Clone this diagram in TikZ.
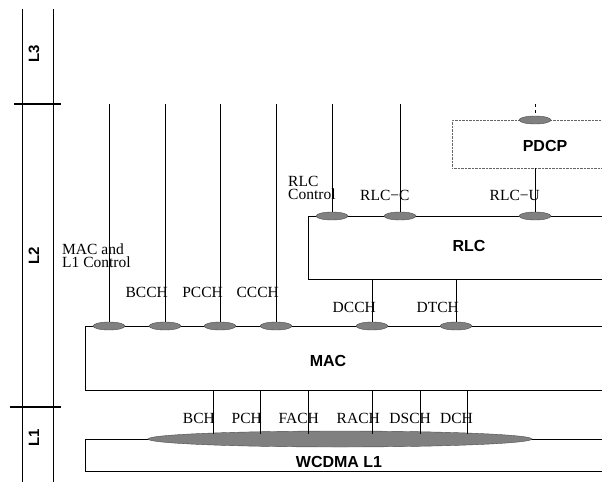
\documentclass[tikz,border=0pt]{standalone}
\usepackage{fontspec}
\setmainfont{Liberation Serif}
\setsansfont{Liberation Sans}
\usetikzlibrary{shapes.geometric,positioning}

\tikzset{
  layerbox/.style={draw, anchor=north west, inner sep=0pt},
  port/.style={ellipse, draw=black!70, fill=black!50, minimum width=32pt,
    minimum height=8pt, inner sep=0pt},
  chan/.style={font=\fontsize{15.5}{13.5}\selectfont, inner sep=0pt, align=left},
  blocklabel/.style={font=\fontsize{16}{16}\selectfont\sffamily\bfseries},
  layerlabel/.style={font=\fontsize{15}{15}\selectfont\sffamily\bfseries, rotate=90},
}

\begin{document}
\begin{tikzpicture}[x=1pt, y=-1pt]
  \clip (0,0) rectangle (602,482);

  % Layer scale
  \coordinate (scaleAtop) at (22,9);
  \coordinate (scaleAbot) at (22,482);
  \coordinate (scaleBtop) at (53,9);
  \coordinate (scaleBbot) at (53,482);
  \draw (scaleAtop) -- (scaleAbot);
  \draw (scaleBtop) -- (scaleBbot);
  \coordinate (tick23l) at (14,104);
  \coordinate (tick23r) at (61,104);
  \coordinate (tick12l) at (10,407);
  \coordinate (tick12r) at (61,407);
  \draw[line width=1.6pt] (tick23l) -- (tick23r);
  \draw[line width=1.6pt] (tick12l) -- (tick12r);
  \node[layerlabel] (lthree) at (34,54) {L3};
  \node[layerlabel] (ltwo) at (34,256) {L2};
  \node[layerlabel] (lone) at (34,438) {L1};

  % Blocks
  \node[layerbox, minimum width=530pt, minimum height=64pt] (mac) at (85,326) {};
  \node[layerbox, minimum width=530pt, minimum height=32pt] (wcdma) at (85,439) {};
  \node[layerbox, minimum width=310pt, minimum height=63pt] (rlc) at (308,216) {};
  \node[layerbox, draw=black!60, densely dotted, minimum width=165pt,
    minimum height=48pt] (pdcp) at (452,120) {};
  \node[blocklabel] (maclbl) at (328,361) {MAC};
  \node[blocklabel] (wcdmalbl) at (339,462) {WCDMA L1};
  \node[blocklabel] (rlclbl) at (469,246) {RLC};
  \node[blocklabel] (pdcplbl) at (545,146) {PDCP};

  % Transport channels into L1
  \node[port, minimum width=384pt, minimum height=16pt] (l1port) at (340,439) {};
  \foreach \x/\lx/\name in {213/215/BCH, 260/262/PCH, 308/319/FACH,
      372/380/RACH, 420/431/DSCH, 467/473/DCH} {
    \coordinate (tr\name) at (\x,390);
    \coordinate (tb\name) at (\x,434);
    \draw (tr\name) -- (tb\name);
    \node[chan, anchor=base east] at (\lx,423) {\name};
  }

  % Logical channels into MAC
  \foreach \x/\name in {109/mctl, 165/bcch, 220/pcch, 276/ccch} {
    \coordinate (top\name) at (\x,104);
    \node[port] (\name) at (\x,326) {};
    \draw (top\name) -- (\name.north);
  }
  \node[port] (dcch) at (372,326) {};
  \node[port] (dtch) at (456,326) {};
  \draw (rlc.south -| dcch) -- (dcch.north);
  \draw (rlc.south -| dtch) -- (dtch.north);
  \node[chan, anchor=south west] at (62,268) {MAC and\\L1 Control};
  \node[chan, anchor=base east] at (168,297) {BCCH};
  \node[chan, anchor=base east] at (223,297) {PCCH};
  \node[chan, anchor=base east] at (279,297) {CCCH};
  \node[chan, anchor=base east] at (376,312) {DCCH};
  \node[chan, anchor=base east] at (459,312) {DTCH};

  % RLC ports
  \foreach \x/\name in {332/rlcctl, 400/rlcc} {
    \coordinate (top\name) at (\x,104);
    \node[port] (\name) at (\x,216) {};
    \draw (top\name) -- (\name.north);
  }
  \node[port] (rlcu) at (535,216) {};
  \draw (pdcp.south -| rlcu) -- (rlcu.north);
  \node[chan, anchor=south west] at (288,200) {RLC\\Control};
  \node[chan, anchor=base west] at (360,200) {RLC−C};
  \node[chan, anchor=base east] at (540,200) {RLC−U};

  % PDCP port
  \coordinate (toppdcp) at (535,104);
  \node[port] (pdcpport) at (535,120) {};
  \draw[dashed] (toppdcp) -- (pdcpport.north);
\end{tikzpicture}
\end{document}
